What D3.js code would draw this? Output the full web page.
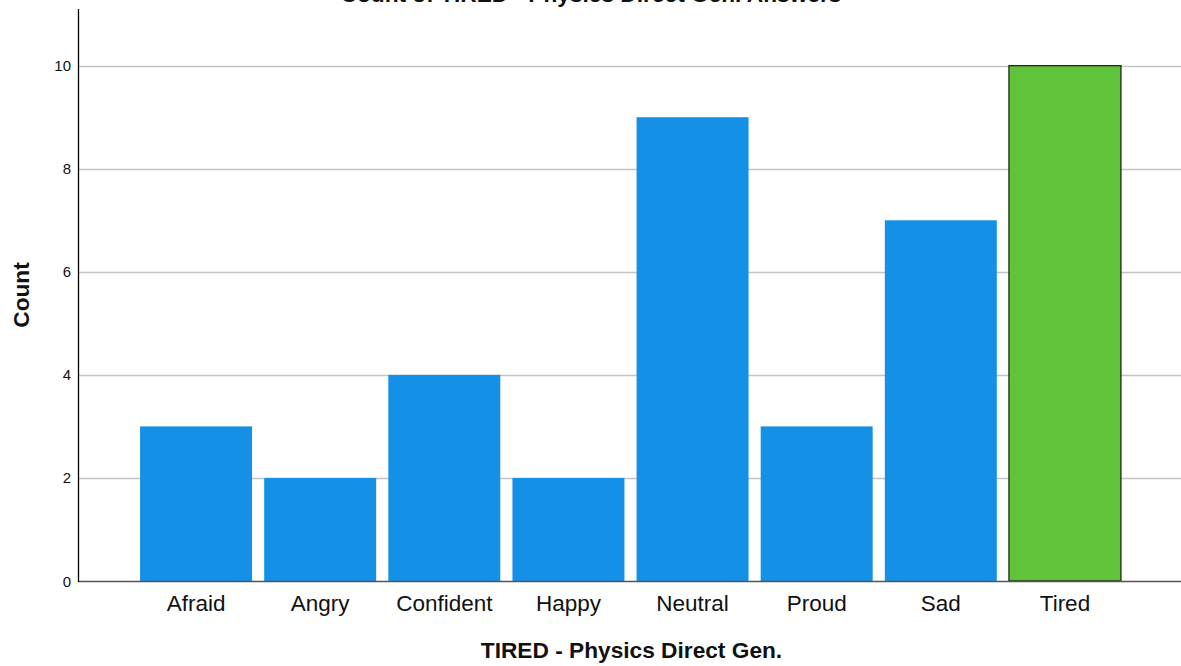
<!DOCTYPE html>
<html><head><meta charset="utf-8">
<script src="https://cdn.jsdelivr.net/npm/d3@7"></script>
<style>body{margin:0;background:#fff}svg{display:block;font-family:"Liberation Sans",Arial,sans-serif}</style>
</head><body><svg id="c" width="1181" height="666"></svg>
<script>
const categories = ["Afraid","Angry","Confident","Happy","Neutral","Proud","Sad","Tired"];
const counts = [3,2,4,2,9,3,7,10];
const highlight = "Tired";
const yTicks = [0,2,4,6,8,10];
const title = "Count of TIRED - Physics Direct Gen. Answers";
const xTitle = "TIRED - Physics Direct Gen.";
const yTitle = "Count";

const svg = d3.select("#c");
const y0 = 581, yTop = 9;
const y = d3.scaleLinear().domain([0, 11.1]).range([y0, yTop]);
const p = 0.0978;
const x = d3.scaleBand().domain(categories).range([134, 1127]).paddingInner(p).paddingOuter(p/2);

// gridlines
svg.append("g").selectAll("line").data(yTicks.filter(d=>d>0)).join("line")
  .attr("x1",78).attr("x2",1181).attr("y1",d=>Math.round(y(d))+0.5).attr("y2",d=>Math.round(y(d))+0.5)
  .attr("stroke","#c4c4c4").attr("stroke-width",1.5);

// bars
svg.append("g").selectAll("rect").data(categories).join("rect")
  .attr("x",d=>x(d)).attr("width",x.bandwidth())
  .attr("y",(d,i)=>y(counts[i])).attr("height",(d,i)=>y0-y(counts[i]))
  .attr("fill",d=>d===highlight?"#5fc43a":"#1491e6")
  .attr("stroke",d=>d===highlight?"#1a2a14":"none").attr("stroke-width",1.3);

// x axis line
svg.append("line").attr("x1",78).attr("x2",1181).attr("y1",y0+0.5).attr("y2",y0+0.5)
  .attr("stroke","#555").attr("stroke-width",1.3);
// y axis line
svg.append("line").attr("x1",78.5).attr("x2",78.5).attr("y1",yTop).attr("y2",y0+1)
  .attr("stroke","#000").attr("stroke-width",1.3);

// y tick labels
svg.append("g").selectAll("text").data(yTicks).join("text")
  .attr("x",71).attr("y",d=>y(d)+5.5).attr("text-anchor","end")
  .attr("font-size",15).attr("fill","#111").text(d=>d);

// x tick labels
svg.append("g").selectAll("text").data(categories).join("text")
  .attr("x",d=>x(d)+x.bandwidth()/2).attr("y",611).attr("text-anchor","middle")
  .attr("font-size",22.5).attr("fill","#111").text(d=>d);

// titles
svg.append("text").attr("x",591).attr("y",1.5).attr("text-anchor","middle")
  .attr("font-size",22.7).attr("font-weight","bold").attr("fill","#111").text(title);
svg.append("text").attr("x",631.5).attr("y",658).attr("text-anchor","middle")
  .attr("font-size",22.7).attr("font-weight","bold").attr("fill","#111").text(xTitle);
svg.append("text").attr("transform","translate(29,295) rotate(-90)").attr("text-anchor","middle")
  .attr("font-size",22.7).attr("font-weight","bold").attr("fill","#111").text(yTitle);
</script></body></html>
